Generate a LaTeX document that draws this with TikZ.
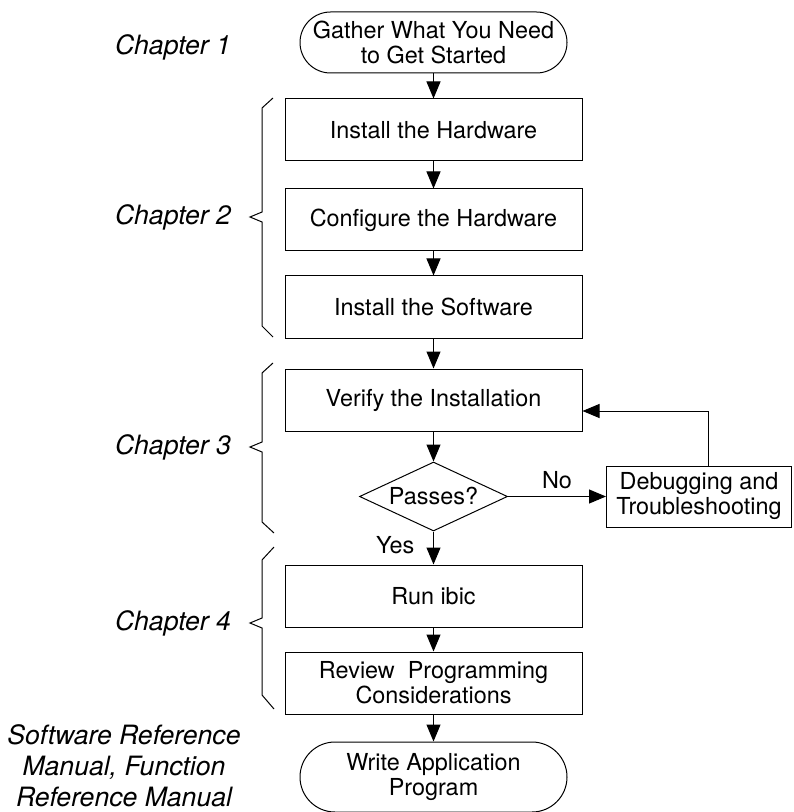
\documentclass[tikz,border=0pt]{standalone}
\usepackage{fontspec}
\setmainfont{TeX Gyre Heros}
\usetikzlibrary{shapes.geometric,arrows.meta,positioning}

\begin{document}
\begin{tikzpicture}[x=0.5pt,y=-0.5pt,line width=0.5pt,
    every node/.style={font=\fontsize{11.7}{12.5}\selectfont},
    stepbox/.style={draw,rectangle,minimum width=148.5pt,minimum height=31pt,inner sep=2pt,align=center},
    terminal/.style={draw,rectangle,rounded corners=15.25pt,minimum width=133.5pt,minimum height=30.5pt,inner sep=2pt,align=center},
    decision/.style={draw,diamond,aspect=2,inner sep=0pt,minimum width=74pt,minimum height=34.5pt},
    chapter/.style={font=\fontsize{13.3}{15.5}\selectfont\itshape,align=center},
    arr/.style={-{Triangle[length=8.5pt,width=7pt]}}]
  \useasboundingbox (0,0) rectangle (793,812);
  % flow
  \node[terminal] (start) at (433.5,42.5) {Gather What You Need\\to Get Started};
  \node[stepbox,below=12.5pt of start] (hw) {Install the Hardware};
  \node[stepbox,below=13.5pt of hw] (config) {Configure the Hardware};
  \node[stepbox,below=12pt of config] (sw) {Install the Software};
  \node[stepbox,below=15pt of sw] (verify) {Verify the Installation};
  \node[decision,below=15pt of verify] (pass) {Passes?};
  \node[stepbox,right=49pt of pass,minimum width=92.5pt,minimum height=30.5pt] (debug) {Debugging and\\Troubleshooting};
  \node[stepbox,below=16.5pt of pass] (ibic) {Run ibic};
  \node[stepbox,below=12pt of ibic] (review) {Review\ \ Programming\\Considerations};
  \node[terminal,below=13.5pt of review,minimum height=35pt,rounded corners=17.5pt] (write) {Write Application\\Program};
  % chapters
  \node[chapter] (ch1) at (173,47) {Chapter 1};
  \node[chapter] (ch2) at (173,217) {Chapter 2};
  \node[chapter] (ch3) at (173,447) {Chapter 3};
  \node[chapter] (ch4) at (173,623) {Chapter 4};
  \node[chapter] (manuals) at (124,766) {Software Reference\\Manual, Function\\Reference Manual};
  % braces
  \draw (273,98) -- (262,108) -- (262,212) -- (250,217) -- (262,222) -- (262,326) -- (273,337);
  \draw (273,363) -- (262,373) -- (262,442) -- (250,447) -- (262,452) -- (262,522) -- (274,533);
  \draw (274,547) -- (262,560) -- (262,618) -- (250,623) -- (262,628) -- (262,695) -- (274,709);
  % arrows
  \draw[arr] (start) -- (hw);
  \draw[arr] (hw) -- (config);
  \draw[arr] (config) -- (sw);
  \draw[arr] (sw) -- (verify);
  \draw[arr] (verify) -- (pass);
  \draw[arr] (pass) -- node[above]{No} (debug);
  \draw[arr] ([xshift=4.75pt]debug.north) |- ([yshift=-5.5pt]verify.east);
  \draw[arr] (pass) -- node[left=6pt,pos=0.4]{Yes} (ibic);
  \draw[arr] (ibic) -- (review);
  \draw[arr] (review) -- (write);
\end{tikzpicture}
\end{document}
